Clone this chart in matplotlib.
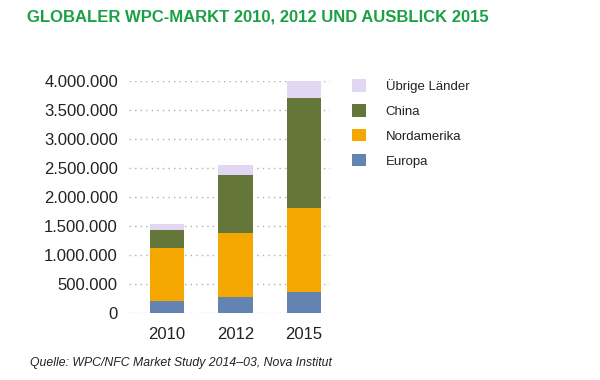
import matplotlib
matplotlib.use("Agg")
import matplotlib.pyplot as plt
from matplotlib.patches import Patch
from matplotlib.ticker import FuncFormatter

years = ["2010", "2012", "2015"]
europa = [210000, 265000, 350000]
nordamerika = [910000, 1115000, 1460000]
china = [305000, 1000000, 1890000]
uebrige = [100000, 165000, 300000]
series_names = ["Europa", "Nordamerika", "China", "Übrige Länder"]
colors = ["#6383B0", "#F4A700", "#65763A", "#E1D7F3"]
yticks = [0, 500000, 1000000, 1500000, 2000000, 2500000, 3000000, 3500000, 4000000]

title = "GLOBALER WPC-MARKT 2010, 2012 UND AUSBLICK 2015"
source = "Quelle: WPC/NFC Market Study 2014\u201303, Nova Institut"

plt.rcParams['font.family'] = ['Liberation Sans', 'DejaVu Sans']

fig = plt.figure(figsize=(6, 3.8), dpi=100)
ax = fig.add_axes([0.215, 0.177, 0.335, 0.6105])

x = list(range(len(years)))
bottom = [0] * len(years)
for vals, col in zip([europa, nordamerika, china, uebrige], colors):
    ax.bar(x, vals, bottom=bottom, width=0.51, color=col, edgecolor="none",
           linewidth=0, zorder=3)
    bottom = [b + v for b, v in zip(bottom, vals)]

ax.set_ylim(0, 4000000)
ax.set_xlim(-0.555, 2.38)
ax.set_yticks(yticks)
ax.yaxis.set_major_formatter(FuncFormatter(lambda v, p: f"{int(v):,}".replace(",", ".")))
ax.set_xticks(x)
ax.set_xticklabels(years)
ax.grid(axis="y", linestyle=(0, (1, 3)), color="#B0B0B0", linewidth=1.0, zorder=0)
for s in ax.spines.values():
    s.set_visible(False)
ax.tick_params(axis="both", length=0, labelsize=12, colors="#222222")
ax.tick_params(axis="y", pad=8)
ax.tick_params(axis="x", pad=10)

handles = [Patch(facecolor=c, edgecolor="none") for c in colors][::-1]
fig.legend(handles, series_names[::-1], loc="upper left",
           bbox_to_anchor=(0.567, 0.823), frameon=False, fontsize=9.5,
           handlelength=1.05, handleheight=1.05, handletextpad=1.5,
           labelspacing=0.85, labelcolor="#222222")

fig.text(0.045, 0.955, title, color="#1BA045", fontsize=12, fontweight="bold",
         va="center", ha="left")
fig.text(0.05, 0.045, source, fontsize=8.8, style="italic", color="#222222",
         va="center", ha="left")

fig.savefig("out.png", dpi=100)
